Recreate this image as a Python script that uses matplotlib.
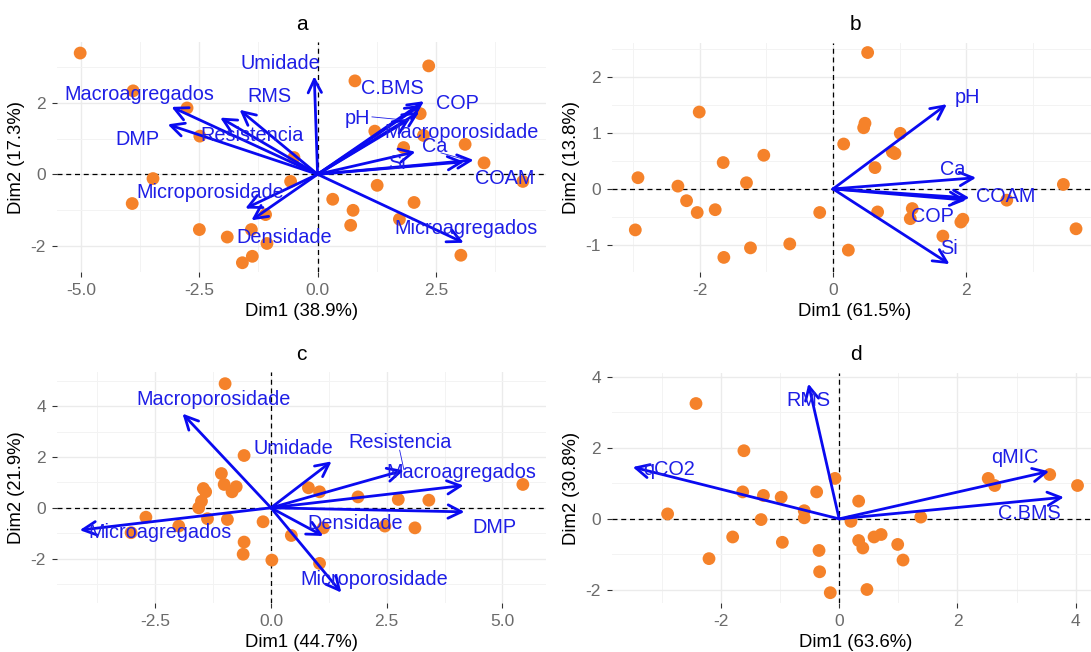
import matplotlib
matplotlib.use('Agg')
import matplotlib.pyplot as plt
from matplotlib.ticker import FixedLocator, FormatStrFormatter

plt.rcParams['font.family'] = ['Liberation Sans', 'DejaVu Sans']
plt.rcParams['axes.unicode_minus'] = False

# ---------------- Panel a ----------------
a_pts_x = [-5.02, -3.90, -2.76, -2.49, -3.48, -3.92, -2.50, -1.91, -1.59, -1.38, -1.40, -1.10, -1.07,
           -0.50, -0.57, 0.79, 2.35, 2.17, 1.21, 1.82, 2.24, 3.12, 3.52, 4.34, 1.26, 0.32, 0.75, 0.70,
           2.04, 1.73, 3.03]
a_pts_y = [3.40, 2.34, 1.86, 1.07, -0.12, -0.82, -1.55, -1.76, -2.48, -2.30, -1.55, -1.13, -1.94,
           0.47, -0.20, 2.62, 3.04, 1.70, 1.21, 0.75, 1.09, 0.84, 0.32, -0.20, -0.31, -0.70, -1.01, -1.43,
           -0.79, -1.26, -2.27]
a_vars = ['Umidade', 'Macroagregados', 'DMP', 'Resistencia', 'RMS', 'Microporosidade', 'Densidade',
          'Microagregados', 'COAM', 'Ca', 'Si', 'COP', 'C.BMS', 'pH', 'Macroporosidade']
a_arr_x = [-0.07, -3.09, -3.17, -2.06, -1.65, -1.53, -1.40, 3.09, 3.30, 3.10, 2.07, 2.20, 2.25, 1.95, 2.15]
a_arr_y = [2.75, 1.89, 1.40, 1.59, 1.81, -0.96, -1.29, -1.92, 0.40, 0.35, 0.63, 1.95, 2.05, 1.55, 1.75]
a_lab_x = [-0.79, -3.77, -3.81, -1.38, -1.01, -2.26, -0.70, 3.14, 3.95, 2.48, 1.67, 2.96, 1.58, 0.85, 3.05]
a_lab_y = [3.12, 2.23, 0.97, 1.09, 2.17, -0.52, -1.76, -1.52, -0.12, 0.79, 0.30, 1.98, 2.40, 1.56, 1.16]
a_seg = [((1.15, 1.61), (1.93, 1.51)), ((2.61, 0.60), (3.10, 0.42))]

# ---------------- Panel b ----------------
b_pts_x = [0.52, -2.01, 0.48, 0.46, 1.01, 0.16, 0.89, 0.93, 0.63, -1.04, -1.65, -2.93, -2.33, -1.30,
           -2.20, -2.04, -1.77, -2.97, -0.20, -0.65, -1.24, -1.64, 0.23, 0.67, 1.19, 1.16, 1.95, 1.92,
           1.65, 2.61, 3.46, 3.65]
b_pts_y = [2.43, 1.37, 1.17, 1.09, 0.99, 0.80, 0.66, 0.63, 0.38, 0.60, 0.47, 0.20, 0.05, 0.11,
           -0.21, -0.42, -0.37, -0.73, -0.42, -0.98, -1.05, -1.22, -1.09, -0.41, -0.35, -0.53, -0.54, -0.59,
           -0.84, -0.20, 0.08, -0.71]
b_vars = ['pH', 'Ca', 'COAM', 'COP', 'Si']
b_arr_x = [1.71, 2.15, 2.05, 2.00, 1.75]
b_arr_y = [1.51, 0.20, -0.16, -0.20, -1.34]
b_lab_x = [2.02, 1.80, 2.60, 1.50, 1.74]
b_lab_y = [1.63, 0.35, -0.14, -0.49, -1.07]
b_seg = []

# ---------------- Panel c ----------------
c_pts_x = [-0.99, -0.58, -1.07, -1.01, -0.75, -0.84, -1.46, -1.41, -1.50, -1.56, -1.37, -2.70, -1.99,
           -3.02, -0.94, -0.17, -0.58, -0.60, 0.02, 0.44, 0.81, 1.05, 1.88, 2.75, 3.41, 2.46, 3.11, 1.13,
           1.05, 5.44]
c_pts_y = [4.89, 2.06, 1.35, 0.92, 0.83, 0.63, 0.76, 0.63, 0.26, 0.00, -0.43, -0.37, -0.72,
           -0.98, -0.46, -0.55, -1.35, -1.83, -2.06, -1.09, 0.79, 0.63, 0.43, 0.33, 0.30, -0.72, -0.79, -0.79,
           -2.19, 0.92]
c_vars = ['Macroporosidade', 'Microagregados', 'Umidade', 'Resistencia', 'Macroagregados', 'DMP',
          'Densidade', 'Microporosidade']
c_arr_x = [-1.91, -4.13, 1.31, 2.87, 4.16, 4.18, 1.13, 1.52]
c_arr_y = [3.71, -0.88, 1.83, 1.48, 0.88, -0.16, -1.11, -3.34]
c_lab_x = [-1.24, -2.39, 0.49, 2.78, 4.11, 4.82, 1.82, 2.23]
c_lab_y = [4.26, -0.96, 2.32, 2.56, 1.40, -0.79, -0.62, -2.84]
c_seg = [((2.78, 2.27), (2.87, 1.51))]

# ---------------- Panel d ----------------
d_pts_x = [-2.42, -1.61, -2.90, -1.63, -1.28, -0.98, -0.38, -0.59, -0.59, -1.32, -1.80, -2.20, -0.96,
           -0.34, -0.33, -0.15, -0.07, 0.33, 0.20, 0.33, 0.40, 0.59, 0.71, 0.99, 1.08, 0.47, 1.38, 2.52,
           2.63, 3.56, 4.03]
d_pts_y = [3.25, 1.92, 0.14, 0.76, 0.66, 0.61, 0.76, 0.23, 0.03, -0.02, -0.51, -1.12, -0.66,
           -0.89, -1.49, -2.08, 1.14, 0.50, -0.07, -0.61, -0.82, -0.51, -0.44, -0.72, -1.16, -1.99, 0.05, 1.14,
           0.94, 1.25, 0.94]
d_vars = ['RMS', 'qCO2', 'qMIC', 'C.BMS']
d_arr_x = [-0.52, -3.49, 3.55, 3.80]
d_arr_y = [3.81, 1.46, 1.34, 0.61]
d_lab_x = [-0.52, -2.87, 2.97, 3.22]
d_lab_y = [3.34, 1.39, 1.72, 0.15]
d_seg = []

titles = ['a', 'b', 'c', 'd']
xlabels = ['Dim1 (38.9%)', 'Dim1 (61.5%)', 'Dim1 (44.7%)', 'Dim1 (63.6%)']
ylabels = ['Dim2 (17.3%)', 'Dim2 (13.8%)', 'Dim2 (21.9%)', 'Dim2 (30.8%)']

W, H = 1091, 652
fig = plt.figure(figsize=(W / 100, H / 100), dpi=100)


def px_axes(x0, y0, x1, y1):
    return fig.add_axes([x0 / W, 1 - y1 / H, (x1 - x0) / W, (y1 - y0) / H])


PT_COLOR = '#F5822A'
ARR_COLOR = '#0A0AF0'
LAB_COLOR = '#1E1EE6'


def draw(ax, title, px, py, vars_, arx, ary, lx, ly, segs, xlim, ylim,
         xmaj, xmin, ymaj, ymin, xfmt, yfmt, xlabel, ylabel):
    ax.set_xlim(*xlim)
    ax.set_ylim(*ylim)
    for s in ax.spines.values():
        s.set_visible(False)
    ax.xaxis.set_major_locator(FixedLocator(xmaj))
    ax.xaxis.set_minor_locator(FixedLocator(xmin))
    ax.yaxis.set_major_locator(FixedLocator(ymaj))
    ax.yaxis.set_minor_locator(FixedLocator(ymin))
    ax.xaxis.set_major_formatter(FormatStrFormatter(xfmt))
    ax.yaxis.set_major_formatter(FormatStrFormatter(yfmt))
    ax.set_axisbelow(True)
    ax.grid(which='major', color='#EBEBEB', lw=1.0)
    ax.grid(which='minor', color='#F3F3F3', lw=0.7)
    ax.tick_params(which='major', length=3.5, width=0.8, color='#333333',
                   labelsize=12.5, labelcolor='#6B6B6B', pad=4.5)
    ax.tick_params(which='minor', length=0)
    ax.axhline(0, color='black', lw=0.9, ls=(0, (4, 3)), zorder=1)
    ax.axvline(0, color='black', lw=0.9, ls=(0, (4, 3)), zorder=1)
    ax.scatter(px, py, s=85, color=PT_COLOR, edgecolors='none', zorder=2)
    for x, y in zip(arx, ary):
        ax.annotate('', xy=(x, y), xytext=(0, 0),
                    arrowprops=dict(arrowstyle='->,head_length=0.8,head_width=0.4',
                                    color=ARR_COLOR, lw=2.0, shrinkA=0, shrinkB=0,
                                    mutation_scale=12),
                    zorder=3)
    for (p0, p1) in segs:
        ax.plot([p0[0], p1[0]], [p0[1], p1[1]], color=LAB_COLOR, lw=0.6, zorder=3)
    for name, x, y in zip(vars_, lx, ly):
        ax.text(x, y, name, color=LAB_COLOR, fontsize=14.3, ha='center', va='center', zorder=4)
    ax.set_title(title, fontsize=15, pad=9)
    ax.set_xlabel(xlabel, fontsize=13.3, labelpad=3.5)
    ax.set_ylabel(ylabel, fontsize=13.3, labelpad=4)


ax_a = px_axes(57, 42, 546, 272)
ax_b = px_axes(612, 43, 1098, 272)
ax_c = px_axes(57, 372, 546, 603)
ax_d = px_axes(612, 373, 1100, 603)

draw(ax_a, titles[0], a_pts_x, a_pts_y, a_vars, a_arr_x, a_arr_y, a_lab_x, a_lab_y, a_seg,
     (-5.51, 4.83), (-2.74, 3.71), [-5, -2.5, 0, 2.5], [-3.75, -1.25, 1.25, 3.75],
     [-2, 0, 2], [-1, 1, 3], '%.1f', '%d', xlabels[0], ylabels[0])
draw(ax_b, titles[1], b_pts_x, b_pts_y, b_vars, b_arr_x, b_arr_y, b_lab_x, b_lab_y, b_seg,
     (-3.32, 3.98), (-1.48, 2.60), [-2, 0, 2], [-3, -1, 1, 3],
     [-1, 0, 1, 2], [-0.5, 0.5, 1.5, 2.5], '%d', '%d', xlabels[1], ylabels[1])
draw(ax_c, titles[2], c_pts_x, c_pts_y, c_vars, c_arr_x, c_arr_y, c_lab_x, c_lab_y, c_seg,
     (-4.62, 5.94), (-3.75, 5.35), [-2.5, 0, 2.5, 5.0], [-3.75, -1.25, 1.25, 3.75],
     [-2, 0, 2, 4], [-3, -1, 1, 3, 5], '%.1f', '%d', xlabels[2], ylabels[2])
draw(ax_d, titles[3], d_pts_x, d_pts_y, d_vars, d_arr_x, d_arr_y, d_lab_x, d_lab_y, d_seg,
     (-3.84, 4.41), (-2.37, 4.11), [-2, 0, 2, 4], [-3, -1, 1, 3],
     [-2, 0, 2, 4], [-1, 1, 3], '%d', '%d', xlabels[3], ylabels[3])

fig.savefig('out.png', dpi=100)
